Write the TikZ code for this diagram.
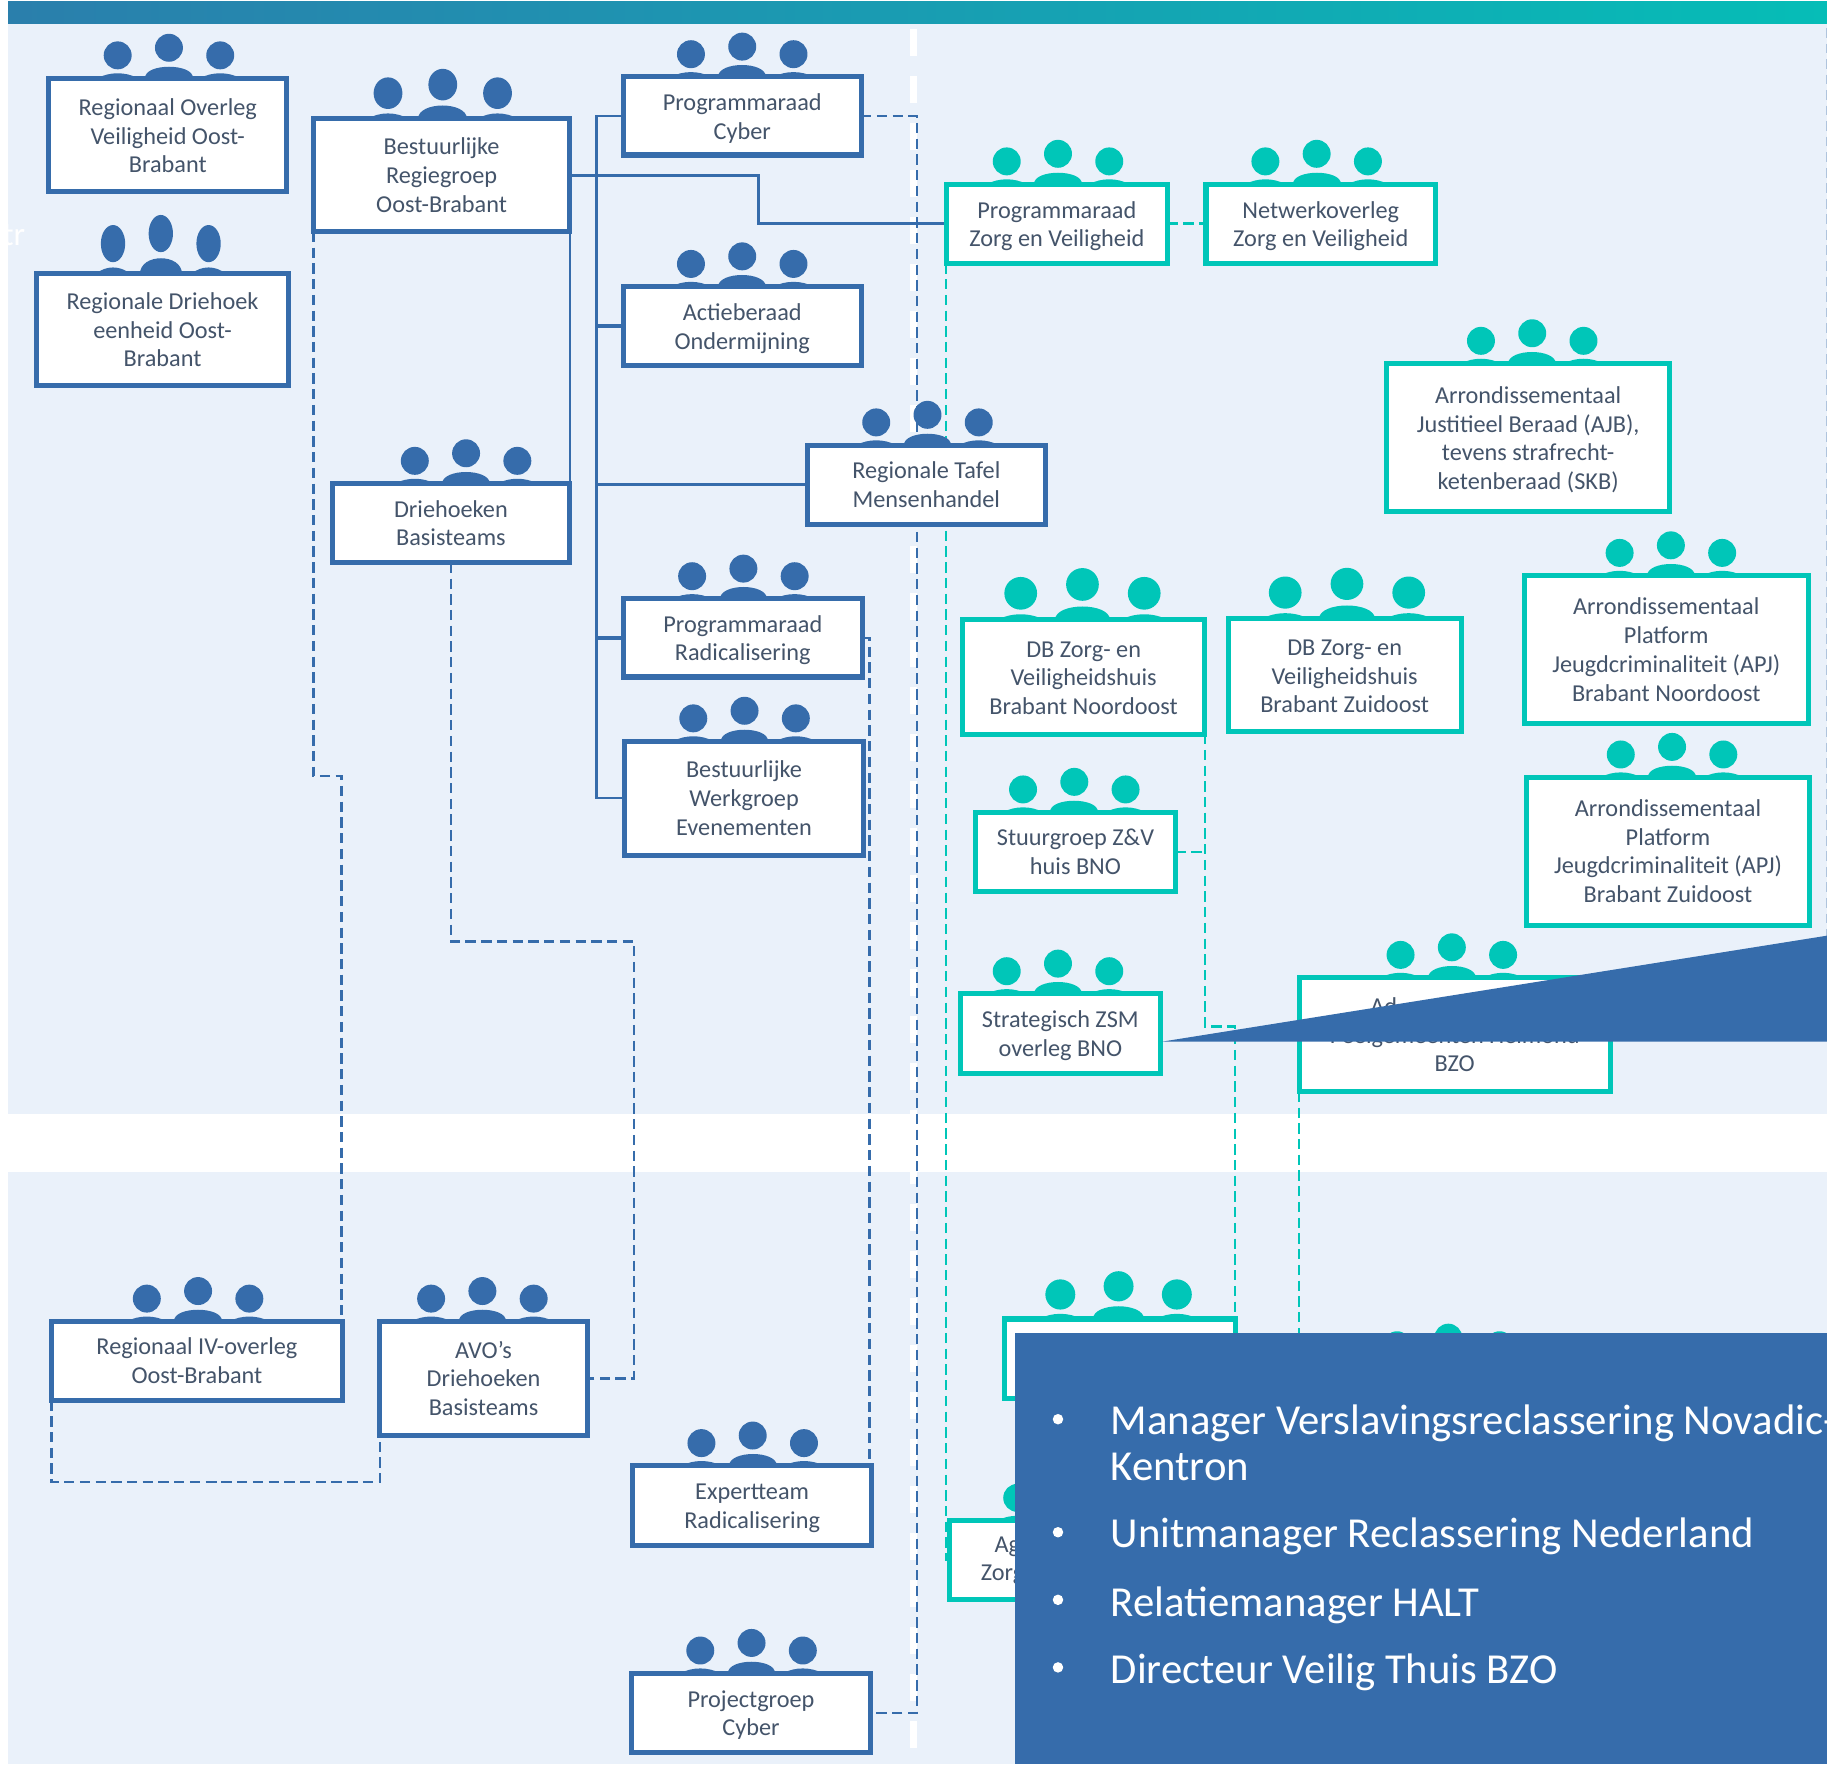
\documentclass[tikz,border=0pt]{standalone}
\usepackage{fontspec}
\setmainfont{Carlito}
\usetikzlibrary{backgrounds}
\definecolor{blauw}{HTML}{366CAB}
\definecolor{teal1}{HTML}{00C6B8}
\definecolor{paneel}{HTML}{EAF1FA}
\definecolor{tekst}{HTML}{44546A}
\definecolor{balkgroen}{HTML}{1FC3A0}
\definecolor{balkblauw}{HTML}{3A62A5}
\pgfdeclarehorizontalshading{balk}{100bp}{
	color(0bp)=(balkblauw); color(40bp)=(blauw!60!teal1); color(82bp)=(teal1); color(100bp)=(balkgroen)}
\tikzset{
	blok/.style    = {draw, line width=2.6pt, fill=white, inner sep=0pt, outer sep=0pt},
	blauwblok/.style = {blok, draw=blauw},
	tealblok/.style  = {blok, draw=teal1},
	bloktekst/.style = {text=tekst, align=center, inner sep=0pt, font=\fontsize{12.5}{14.8}\selectfont},
	lijn/.style    = {blauw, line width=1.3pt},
	dik/.style     = {blauw, line width=1.9pt},
	stip/.style    = {blauw, line width=1.35pt, dash pattern=on 5.3pt off 2.8pt},
	tstip/.style   = {teal1, line width=1.3pt, dash pattern=on 5.3pt off 2.8pt},
	vlak/.style    = {fill=blauw, draw=none},
	punt/.style    = {text=white, anchor=base west, inner sep=0pt, font=\fontsize{22}{24}\selectfont}
}
% box: text offset, name, style, x1, y1, x2, y2, text
\newcommand{\blokje}[8][0]{
	\node[#3, minimum width=#6*0.6pt-#4*0.6pt, minimum height=#7*0.6pt-#5*0.6pt] (#2) at ({(#4+#6)/2},{(#5+#7)/2}) {};
	\node[bloktekst, yshift=-#1*0.6pt] (#2 tekst) at (#2) {#8};
}
% icon: colour, middle x, box top, step, x size, y size
\newcommand{\mensen}[6]{
	\begin{scope}[shift={(#2,#3)}, #1]
		\fill (-#4,{-19.5*#6}) ellipse ({#5*12} and {#6*12});
		\fill (0,{-26*#6}) ellipse ({#5*12} and {#6*12});
		\fill (#4,{-19.5*#6}) ellipse ({#5*12} and {#6*12});
		\fill ({-#4-17*#5},0) .. controls ({-#4-7*#5},{-5.5*#6}) and ({-#4+7*#5},{-5.5*#6}) .. ({-#4+17*#5},0) -- cycle;
		\fill ({-20.5*#5},0) .. controls ({-20.5*#5},{-13.3*#6}) and ({20.5*#5},{-13.3*#6}) .. ({20.5*#5},0) -- cycle;
		\fill ({#4-17*#5},0) .. controls ({#4-7*#5},{-5.5*#6}) and ({#4+7*#5},{-5.5*#6}) .. ({#4+17*#5},0) -- cycle;
	\end{scope}
}

\begin{document}
\begin{tikzpicture}[x=0.6pt, y=-0.6pt]
	\useasboundingbox (0,0) rectangle (1568,1514);
	% panels
	\begin{scope}[on background layer]
		\fill[paneel] (7,20) rectangle (1568,956);
		\fill[paneel] (7,1006) rectangle (1568,1514);
		\shade[shading=balk] (7,1) rectangle (1568,20);
		\draw[white, line width=3.6pt, dash pattern=on 13.7pt off 10.5pt] (784,25) -- (784,1514);
		\draw[blauw!40, line width=.6pt, dash pattern=on 5pt off 3pt] (1567.6,24) -- (1567.6,803);
	\end{scope}
	\node[text=white, font=\fontsize{17}{17}\selectfont, anchor=base east, inner sep=0pt] (resttekst) at (22,211) {tr};

	% blue boxes
	\mensen{blauw}{145}{67}{44}{1}{1}
	\blokje[1]{overleg}{blauwblok}{42}{67}{246}{164}{Regionaal Overleg\\Veiligheid Oost-\\Brabant}
	\mensen{blauw}{138}{235}{41}{.87}{1.33}
	\blokje{driehoek}{blauwblok}{31}{235}{248}{331}{Regionale Driehoek\\eenheid Oost-\\Brabant}
	\mensen{blauw}{380}{102}{47}{1.03}{1.13}
	\blokje{regie}{blauwblok}{269}{102}{489}{199}{Bestuurlijke\\Regiegroep\\Oost-Brabant}
	\mensen{blauw}{637}{66}{44}{1}{1}
	\blokje[2.5]{cyber}{blauwblok}{535}{66}{739}{133}{Programmaraad\\Cyber}
	\mensen{blauw}{637}{246}{44}{1}{1}
	\blokje[2]{actie}{blauwblok}{535}{246}{739}{314}{Actieberaad\\Ondermijning}
	\mensen{blauw}{796}{382}{44}{1}{1}
	\blokje{tafel}{blauwblok}{693}{382}{897}{450}{Regionale Tafel\\Mensenhandel}
	\mensen{blauw}{400}{415}{44}{1}{1}
	\blokje{basis}{blauwblok}{285}{415}{489}{483}{Driehoeken\\Basisteams}
	\mensen{blauw}{638}{514}{44}{1}{1}
	\blokje[2]{radi}{blauwblok}{535}{514}{740}{581}{Programmaraad\\Radicalisering}
	\mensen{blauw}{639}{636}{44}{1}{1}
	\blokje{evene}{blauwblok}{536}{636}{741}{734}{Bestuurlijke\\Werkgroep\\Evenementen}
	\mensen{blauw}{170}{1134}{44}{1}{1}
	\blokje{iv}{blauwblok}{44}{1134}{294}{1202}{Regionaal IV-overleg\\Oost-Brabant}
	\mensen{blauw}{414}{1134}{44}{1}{1}
	\blokje{avo}{blauwblok}{326}{1134}{504}{1232}{AVO’s\\Driehoeken\\Basisteams}
	\mensen{blauw}{646}{1258}{44}{1}{1}
	\blokje[2.5]{expert}{blauwblok}{543}{1258}{748}{1326}{Expertteam\\Radicalisering}
	\mensen{blauw}{645}{1436}{44}{1}{1}
	\blokje[2]{project}{blauwblok}{542}{1436}{747}{1504}{Projectgroep\\Cyber}

	% teal boxes
	\mensen{teal1}{908}{158}{44}{1}{1}
	\blokje[2]{progzv}{tealblok}{812}{158}{1002}{226}{Programmaraad\\Zorg en Veiligheid}
	\mensen{teal1}{1130}{158}{44}{1}{1}
	\blokje[2]{netwerk}{tealblok}{1035}{158}{1232}{226}{Netwerkoverleg\\Zorg en Veiligheid}
	\mensen{teal1}{1315}{312}{44}{1}{1}
	\blokje[2]{ajb}{tealblok}{1190}{312}{1433}{439}{Arrondissementaal\\Justitieel Beraad (AJB),\\tevens strafrecht-\\ketenberaad (SKB)}
	\mensen{teal1}{1434}{494}{44}{1}{1}
	\blokje{apjno}{tealblok}{1308}{494}{1552}{621}{Arrondissementaal\\Platform\\Jeugdcriminaliteit (APJ)\\Brabant Noordoost}
	\mensen{teal1}{929}{532}{53}{1.17}{1.17}
	\blokje[1]{dbno}{tealblok}{826}{532}{1034}{630}{DB Zorg- en\\Veiligheidshuis\\Brabant Noordoost}
	\mensen{teal1}{1156}{531}{53}{1.17}{1.15}
	\blokje[1]{dbzo}{tealblok}{1054}{531}{1254}{628}{DB Zorg- en\\Veiligheidshuis\\Brabant Zuidoost}
	\mensen{teal1}{922}{697}{44}{1}{1}
	\blokje{stuur}{tealblok}{837}{697}{1009}{765}{Stuurgroep Z\&V\\huis BNO}
	\mensen{teal1}{1435}{667}{44}{1}{1}
	\blokje{apjzo}{tealblok}{1310}{667}{1553}{794}{Arrondissementaal\\Platform\\Jeugdcriminaliteit (APJ)\\Brabant Zuidoost}
	\mensen{teal1}{908}{853}{44}{1}{1}
	\blokje[2]{zsm}{tealblok}{824}{853}{996}{921}{Strategisch ZSM\\overleg BNO}
	\mensen{teal1}{1246}{839}{44}{1}{1}
	\blokje{advies}{tealblok}{1115}{839}{1382}{937}{Ad\phantom{viescommissie}\\Peelgemeenten Helmond\\BZO}
	\mensen{teal1}{960}{1132}{50}{1.07}{1.08}
	\blokje{verborgen}{tealblok}{862}{1132}{1060}{1200}{}
	\mensen{teal1}{1243}{1174}{44}{1}{1}
	\mensen{teal1}{917}{1305}{44}{1}{1}
	\blokje{agenda}{tealblok}{815}{1305}{1019}{1373}{Ag\phantom{endaoverleg}\\Zorg en Veiligheid}

	% connectors
	\coordinate (bocht1) at (293,666);
	\coordinate (bocht2) at (544,808);
	\coordinate (kabel) at (787,1470);
	\coordinate (bocht4) at (746,1258);
	\coordinate (bocht5) at (185,1272);
	\coordinate (bocht6) at (1060,881);
	\coordinate (einde) at (1115,1150);
	\coordinate (stam) at (512,685);
	\coordinate (knik) at (651,170);
	\begin{scope}[on background layer]
		\draw[stip] (regie.south west) |- (bocht1) -- (bocht1 |- iv.north);
		\draw[stip] (basis.south) |- (bocht2) |- (avo.east);
		\draw[stip] (cyber.east) -| (kabel) -- (project.east);
		\draw[stip] (radi.east) -| (bocht4);
		\draw[stip] (iv.south west) |- (bocht5) -| (avo.south west);
		\draw[tstip] (progzv.south west) |- (agenda.west);
		\draw[tstip] (dbno.south east) |- (bocht6) -- (bocht6 |- verborgen.north);
		\draw[tstip] (stuur.east) -- (stuur.east -| dbno.south east);
		\draw[tstip] (advies.south west) -- (einde);
		\draw[tstip] (progzv.east) -- (netwerk.west);
		\draw[lijn] (cyber.west) -| (stam) -- (evene.west);
		\draw[lijn] (regie.east) -| (knik) |- (progzv.west);
		\draw[dik] (regie.east) -- (regie.east -| stam);
		\draw[dik] (actie.west) -- (actie.west -| stam);
		\draw[lijn] (tafel.west) -- (tafel.west -| stam);
		\draw[dik] (radi.west) -- (radi.west -| stam);
		\draw[lijn] (regie.south east) -- (basis.north east);
	\end{scope}

	% overlay
	\fill[vlak] (997,894) -- (1568,803) -- (1568,894) -- cycle;
	\fill[vlak] (871,1144) rectangle (1568,1514);
	\foreach \yy in {1218,1315,1373,1431}
		\fill[white] (908,\yy) circle (4.5);
	\node[punt] (regel1) at (953,1231) {Manager Verslavingsreclassering Novadic-};
	\node[punt] (regel2) at (953,1271) {Kentron};
	\node[punt] (regel3) at (953,1328) {Unitmanager Reclassering Nederland};
	\node[punt] (regel4) at (953,1387) {Relatiemanager HALT};
	\node[punt] (regel5) at (953,1445) {Directeur Veilig Thuis BZO};
\end{tikzpicture}
\end{document}
